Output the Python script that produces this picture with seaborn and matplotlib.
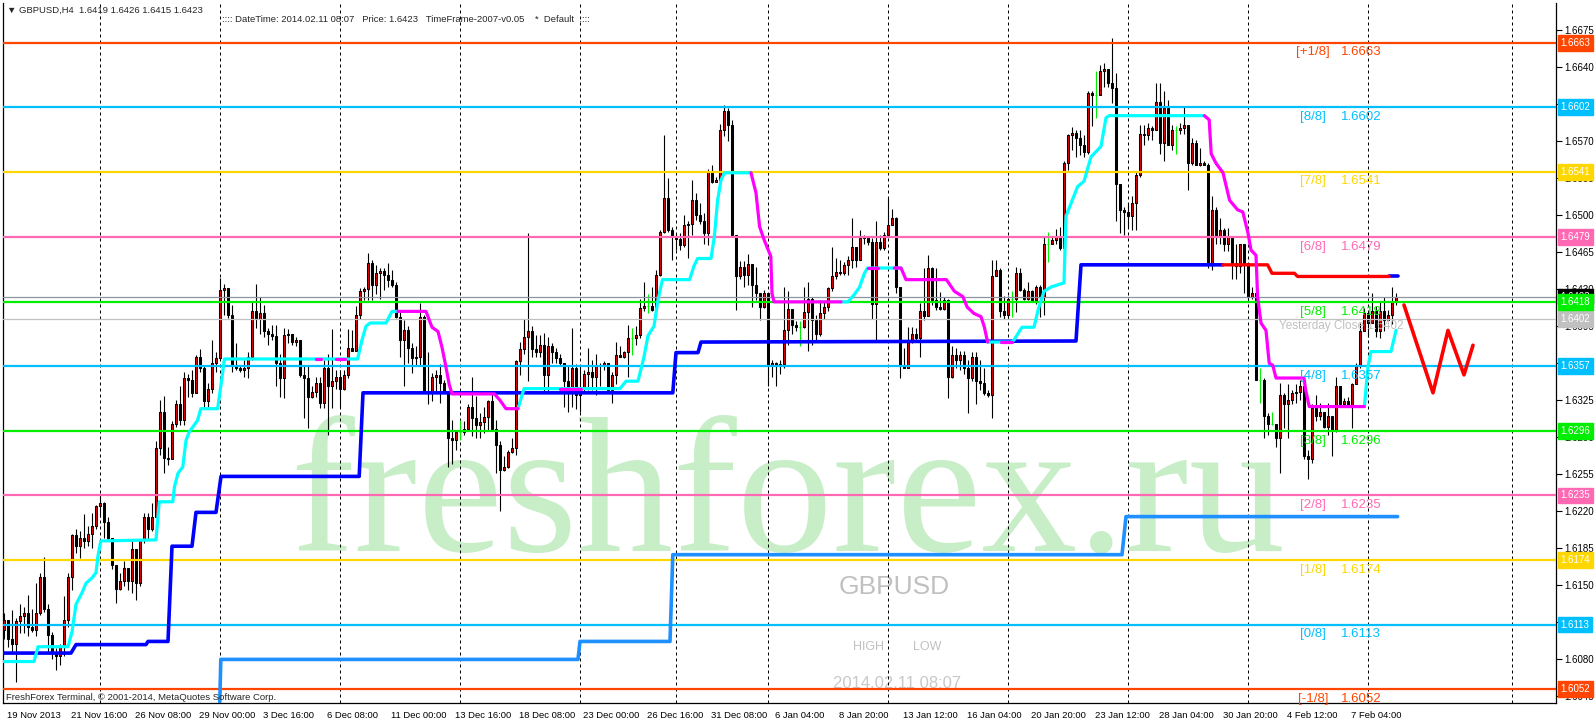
import numpy as np
import pandas as pd
import seaborn as sns
import matplotlib
matplotlib.use("Agg")
import matplotlib.pyplot as plt
from matplotlib import transforms

# ---- candles: GBPUSD H4, bar index 0 = 19 Nov 2013 00:00 ----
open0 = 1.6108
closes = [
    1.6117, 1.6099, 1.6095, 1.6116, 1.6121, 1.6124, 1.6111, 1.6108, 1.6124, 1.6158,
    1.6128, 1.6103, 1.6086, 1.6083, 1.6092, 1.6117, 1.6158, 1.6198, 1.6187, 1.6195,
    1.6192, 1.6199, 1.6206, 1.6225, 1.6228, 1.6210, 1.6195, 1.6169, 1.6147, 1.6154,
    1.6166, 1.6154, 1.6184, 1.6152, 1.6193, 1.6215, 1.6203, 1.6215, 1.6280, 1.6314,
    1.6270, 1.6269, 1.6303, 1.6321, 1.6306, 1.6346, 1.6344, 1.6332, 1.6366, 1.6355,
    1.6324, 1.6336, 1.6360, 1.6365, 1.6429, 1.6431, 1.6406, 1.6357, 1.6355, 1.6354,
    1.6355, 1.6366, 1.6409, 1.6402, 1.6407, 1.6390, 1.6388, 1.6386, 1.6360, 1.6346,
    1.6387, 1.6388, 1.6380, 1.6382, 1.6349, 1.6346, 1.6328, 1.6333, 1.6341, 1.6322,
    1.6355, 1.6338, 1.6343, 1.6347, 1.6336, 1.6349, 1.6374, 1.6372, 1.6406, 1.6428,
    1.6430, 1.6455, 1.6434, 1.6445, 1.6447, 1.6443, 1.6439, 1.6434, 1.6404, 1.6382,
    1.6391, 1.6374, 1.6365, 1.6366, 1.6404, 1.6332, 1.6333, 1.6347, 1.6349, 1.6341,
    1.6332, 1.6289, 1.6287, 1.6295, 1.6295, 1.6298, 1.6319, 1.6308, 1.6302, 1.6304,
    1.6309, 1.6324, 1.6298, 1.6283, 1.6259, 1.6262, 1.6276, 1.6280, 1.6362, 1.6373,
    1.6385, 1.6390, 1.6373, 1.6371, 1.6377, 1.6349, 1.6376, 1.6371, 1.6365, 1.6360,
    1.6343, 1.6333, 1.6355, 1.6330, 1.6336, 1.6350, 1.6352, 1.6347, 1.6357, 1.6358,
    1.6360, 1.6335, 1.6349, 1.6368, 1.6366, 1.6371, 1.6384, 1.6384, 1.6387, 1.6412,
    1.6414, 1.6414, 1.6410, 1.6443, 1.6484, 1.6516, 1.6486, 1.6480, 1.6477, 1.6472,
    1.6491, 1.6492, 1.6514, 1.6500, 1.6494, 1.6483, 1.6541, 1.6531, 1.6533, 1.6580,
    1.6598, 1.6585, 1.6481, 1.6442, 1.6451, 1.6443, 1.6454, 1.6434, 1.6426, 1.6413,
    1.6426, 1.6358, 1.6360, 1.6358, 1.6359, 1.6391, 1.6411, 1.6396, 1.6394, 1.6394,
    1.6408, 1.6421, 1.6401, 1.6388, 1.6407, 1.6413, 1.6431, 1.6442, 1.6446, 1.6445,
    1.6453, 1.6458, 1.6470, 1.6458, 1.6478, 1.6480, 1.6475, 1.6416, 1.6475, 1.6469,
    1.6481, 1.6491, 1.6497, 1.6432, 1.6358, 1.6355, 1.6382, 1.6388, 1.6384, 1.6409,
    1.6405, 1.6450, 1.6420, 1.6413, 1.6411, 1.6420, 1.6347, 1.6368, 1.6363, 1.6368,
    1.6355, 1.6346, 1.6366, 1.6343, 1.6341, 1.6332, 1.6330, 1.6442, 1.6448, 1.6409,
    1.6406, 1.6421, 1.6421, 1.6445, 1.6429, 1.6421, 1.6428, 1.6420, 1.6432, 1.6423,
    1.6473, 1.6473, 1.6476, 1.6480, 1.6469, 1.6549, 1.6576, 1.6578, 1.6573, 1.6566,
    1.6560, 1.6615, 1.6614, 1.6614, 1.6636, 1.6638, 1.6625, 1.6620, 1.6529, 1.6505,
    1.6503, 1.6499, 1.6511, 1.6538, 1.6577, 1.6576, 1.6582, 1.6580, 1.6607, 1.6568,
    1.6601, 1.6566, 1.6580, 1.6580, 1.6582, 1.6585, 1.6549, 1.6568, 1.6547, 1.6549,
    1.6547, 1.6453, 1.6505, 1.6480, 1.6486, 1.6473, 1.6480, 1.6455, 1.6452, 1.6473,
    1.6455, 1.6423, 1.6426, 1.6344, 1.6344, 1.6310, 1.6303, 1.6303, 1.6289, 1.6330,
    1.6321, 1.6325, 1.6332, 1.6333, 1.6338, 1.6272, 1.6269, 1.6318, 1.6310, 1.6314,
    1.6300, 1.6310, 1.6297, 1.6338, 1.6321, 1.6324, 1.6319, 1.6340, 1.6358, 1.6390,
    1.6407, 1.6398, 1.6409, 1.6390, 1.6409, 1.6401, 1.6406, 1.6418, 1.6423,
]
highs = [
    1.6124, 1.6117, 1.6127, 1.6119, 1.6132, 1.6130, 1.6141, 1.6128, 1.6152, 1.6162,
    1.6177, 1.6132, 1.6106, 1.6091, 1.6095, 1.6140, 1.6162, 1.6199, 1.6203, 1.6201,
    1.6217, 1.6206, 1.6218, 1.6226, 1.6236, 1.6229, 1.6215, 1.6195, 1.6169, 1.6162,
    1.6173, 1.6166, 1.6193, 1.6184, 1.6193, 1.6218, 1.6218, 1.6228, 1.6286, 1.6325,
    1.6329, 1.6281, 1.6305, 1.6325, 1.6338, 1.6352, 1.6350, 1.6354, 1.6368, 1.6373,
    1.6357, 1.6341, 1.6382, 1.6371, 1.6441, 1.6435, 1.6428, 1.6415, 1.6379, 1.6358,
    1.6363, 1.6371, 1.6418, 1.6435, 1.6423, 1.6415, 1.6393, 1.6396, 1.6396, 1.6369,
    1.6393, 1.6392, 1.6385, 1.6385, 1.6382, 1.6357, 1.6357, 1.6338, 1.6347, 1.6347,
    1.6363, 1.6369, 1.6392, 1.6354, 1.6354, 1.6354, 1.6392, 1.6391, 1.6414, 1.6431,
    1.6432, 1.6464, 1.6458, 1.6453, 1.6450, 1.6450, 1.6455, 1.6448, 1.6437, 1.6410,
    1.6401, 1.6395, 1.6379, 1.6376, 1.6417, 1.6406, 1.6371, 1.6351, 1.6354, 1.6359,
    1.6344, 1.6333, 1.6306, 1.6297, 1.6306, 1.6305, 1.6321, 1.6347, 1.6329, 1.6313,
    1.6319, 1.6325, 1.6332, 1.6306, 1.6286, 1.6272, 1.6278, 1.6289, 1.6363, 1.6380,
    1.6402, 1.6483, 1.6395, 1.6387, 1.6387, 1.6389, 1.6385, 1.6379, 1.6374, 1.6369,
    1.6359, 1.6357, 1.6393, 1.6359, 1.6357, 1.6354, 1.6374, 1.6363, 1.6369, 1.6360,
    1.6362, 1.6357, 1.6352, 1.6380, 1.6376, 1.6372, 1.6396, 1.6393, 1.6395, 1.6421,
    1.6437, 1.6425, 1.6432, 1.6448, 1.6486, 1.6576, 1.6535, 1.6489, 1.6483, 1.6483,
    1.6500, 1.6494, 1.6533, 1.6521, 1.6511, 1.6502, 1.6544, 1.6547, 1.6536, 1.6586,
    1.6604, 1.6601, 1.6590, 1.6481, 1.6457, 1.6457, 1.6463, 1.6454, 1.6451, 1.6426,
    1.6429, 1.6400, 1.6363, 1.6361, 1.6363, 1.6432, 1.6428, 1.6408, 1.6400, 1.6400,
    1.6432, 1.6437, 1.6423, 1.6406, 1.6420, 1.6418, 1.6432, 1.6470, 1.6459, 1.6458,
    1.6456, 1.6461, 1.6497, 1.6470, 1.6486, 1.6481, 1.6480, 1.6478, 1.6494, 1.6481,
    1.6484, 1.6516, 1.6506, 1.6498, 1.6432, 1.6374, 1.6394, 1.6394, 1.6393, 1.6417,
    1.6450, 1.6462, 1.6451, 1.6450, 1.6427, 1.6423, 1.6421, 1.6376, 1.6374, 1.6372,
    1.6372, 1.6363, 1.6371, 1.6371, 1.6363, 1.6355, 1.6335, 1.6458, 1.6458, 1.6450,
    1.6424, 1.6424, 1.6428, 1.6451, 1.6450, 1.6431, 1.6437, 1.6429, 1.6434, 1.6434,
    1.6480, 1.6484, 1.6480, 1.6487, 1.6489, 1.6551, 1.6577, 1.6583, 1.6580, 1.6580,
    1.6576, 1.6617, 1.6617, 1.6636, 1.6642, 1.6644, 1.6637, 1.6667, 1.6634, 1.6529,
    1.6508, 1.6511, 1.6518, 1.6541, 1.6585, 1.6585, 1.6587, 1.6584, 1.6625, 1.6625,
    1.6617, 1.6609, 1.6585, 1.6584, 1.6587, 1.6603, 1.6582, 1.6573, 1.6571, 1.6563,
    1.6551, 1.6549, 1.6518, 1.6508, 1.6497, 1.6488, 1.6488, 1.6480, 1.6473, 1.6473,
    1.6467, 1.6432, 1.6432, 1.6426, 1.6355, 1.6346, 1.6313, 1.6314, 1.6303, 1.6341,
    1.6332, 1.6340, 1.6335, 1.6340, 1.6344, 1.6338, 1.6278, 1.6321, 1.6330, 1.6322,
    1.6311, 1.6322, 1.6303, 1.6347, 1.6336, 1.6327, 1.6328, 1.6341, 1.6360, 1.6398,
    1.6412, 1.6407, 1.6426, 1.6414, 1.6418, 1.6423, 1.6410, 1.6432, 1.6426,
]
lows = [
    1.6099, 1.6092, 1.6086, 1.6059, 1.6105, 1.6105, 1.6102, 1.6106, 1.6102, 1.6122,
    1.6125, 1.6087, 1.6080, 1.6070, 1.6075, 1.6083, 1.6111, 1.6146, 1.6181, 1.6176,
    1.6185, 1.6187, 1.6185, 1.6203, 1.6215, 1.6195, 1.6192, 1.6165, 1.6133, 1.6146,
    1.6149, 1.6146, 1.6143, 1.6136, 1.6149, 1.6190, 1.6193, 1.6201, 1.6215, 1.6273,
    1.6256, 1.6264, 1.6277, 1.6300, 1.6302, 1.6302, 1.6328, 1.6328, 1.6332, 1.6352,
    1.6319, 1.6319, 1.6332, 1.6352, 1.6363, 1.6406, 1.6403, 1.6352, 1.6354, 1.6352,
    1.6347, 1.6346, 1.6363, 1.6393, 1.6388, 1.6385, 1.6377, 1.6382, 1.6338, 1.6328,
    1.6327, 1.6379, 1.6377, 1.6376, 1.6347, 1.6308, 1.6299, 1.6327, 1.6328, 1.6318,
    1.6318, 1.6292, 1.6318, 1.6336, 1.6319, 1.6335, 1.6346, 1.6372, 1.6372, 1.6402,
    1.6420, 1.6420, 1.6420, 1.6425, 1.6421, 1.6429, 1.6432, 1.6432, 1.6403, 1.6366,
    1.6338, 1.6360, 1.6351, 1.6357, 1.6357, 1.6332, 1.6321, 1.6324, 1.6332, 1.6322,
    1.6332, 1.6262, 1.6265, 1.6278, 1.6287, 1.6292, 1.6297, 1.6291, 1.6289, 1.6289,
    1.6294, 1.6297, 1.6297, 1.6256, 1.6220, 1.6258, 1.6261, 1.6275, 1.6273, 1.6349,
    1.6369, 1.6343, 1.6366, 1.6366, 1.6366, 1.6333, 1.6333, 1.6360, 1.6360, 1.6357,
    1.6319, 1.6314, 1.6319, 1.6317, 1.6314, 1.6332, 1.6335, 1.6335, 1.6330, 1.6338,
    1.6354, 1.6332, 1.6322, 1.6340, 1.6366, 1.6365, 1.6347, 1.6368, 1.6377, 1.6384,
    1.6409, 1.6407, 1.6409, 1.6429, 1.6442, 1.6483, 1.6484, 1.6458, 1.6467, 1.6467,
    1.6470, 1.6459, 1.6481, 1.6495, 1.6492, 1.6473, 1.6472, 1.6530, 1.6531, 1.6530,
    1.6575, 1.6570, 1.6480, 1.6410, 1.6440, 1.6432, 1.6434, 1.6413, 1.6420, 1.6401,
    1.6412, 1.6338, 1.6347, 1.6338, 1.6350, 1.6355, 1.6377, 1.6388, 1.6390, 1.6376,
    1.6393, 1.6372, 1.6377, 1.6380, 1.6386, 1.6402, 1.6409, 1.6428, 1.6440, 1.6443,
    1.6443, 1.6443, 1.6450, 1.6451, 1.6458, 1.6473, 1.6472, 1.6402, 1.6382, 1.6467,
    1.6467, 1.6481, 1.6491, 1.6426, 1.6346, 1.6355, 1.6355, 1.6379, 1.6382, 1.6366,
    1.6401, 1.6410, 1.6415, 1.6410, 1.6410, 1.6410, 1.6327, 1.6346, 1.6355, 1.6354,
    1.6350, 1.6313, 1.6343, 1.6321, 1.6335, 1.6330, 1.6328, 1.6308, 1.6442, 1.6404,
    1.6402, 1.6404, 1.6404, 1.6408, 1.6428, 1.6420, 1.6420, 1.6418, 1.6416, 1.6404,
    1.6406, 1.6456, 1.6473, 1.6473, 1.6467, 1.6455, 1.6543, 1.6562, 1.6555, 1.6557,
    1.6555, 1.6558, 1.6584, 1.6592, 1.6615, 1.6621, 1.6621, 1.6606, 1.6494, 1.6483,
    1.6481, 1.6488, 1.6486, 1.6486, 1.6536, 1.6566, 1.6571, 1.6571, 1.6580, 1.6558,
    1.6551, 1.6566, 1.6562, 1.6558, 1.6577, 1.6577, 1.6524, 1.6547, 1.6547, 1.6546,
    1.6547, 1.6450, 1.6448, 1.6473, 1.6473, 1.6466, 1.6466, 1.6440, 1.6440, 1.6445,
    1.6426, 1.6421, 1.6421, 1.6344, 1.6322, 1.6289, 1.6292, 1.6302, 1.6281, 1.6256,
    1.6299, 1.6289, 1.6321, 1.6322, 1.6325, 1.6269, 1.6251, 1.6266, 1.6305, 1.6306,
    1.6299, 1.6292, 1.6272, 1.6295, 1.6319, 1.6319, 1.6319, 1.6299, 1.6340, 1.6355,
    1.6390, 1.6385, 1.6401, 1.6385, 1.6384, 1.6390, 1.6401, 1.6397, 1.6415,
]

# ---- indicator lines (bar position, price), one inner list per drawn piece ----
cyan_bars = [
    [0, 7.5, 8.5, 16, 17, 18, 19.5, 20.5, 22, 23, 23.5, 24.2, 38, 38.8, 42.2, 42.6, 43.5, 44.7, 45.5, 46.3,
     48.4, 49.2, 53.4, 54.3, 55.1, 88.4, 89.5, 90.5, 91.5, 95.5, 97, 98.5],
    [128.5, 130, 154, 155.5, 158.5, 160, 161, 162.5, 163.5, 164.6, 171.4, 172.5, 173.4, 176.75, 177.6,
     178.4, 179.25, 180.1, 186.75],
    [209.25, 211, 212.6, 213.9, 215.1, 215.9, 224.25],
    [245.9, 252, 252.5, 254.5, 257.5, 258.5, 260, 261.75, 265, 265.5, 266.75, 268.4, 270, 271.75, 274.25,
     275.5, 276.3, 300.1],
    [340.1, 341, 341.75, 346.75, 348],
]
cyan_prices = [
    [1.6078, 1.6078, 1.6092, 1.6092, 1.6106, 1.6132, 1.6143, 1.6152, 1.6157, 1.6162, 1.6178, 1.6192, 1.6193,
     1.6229, 1.6229, 1.6243, 1.6256, 1.6262, 1.6287, 1.6295, 1.6306, 1.6317, 1.6317, 1.6341, 1.6364, 1.6364,
     1.6382, 1.6395, 1.6398, 1.6398, 1.6409, 1.6409],
    [1.6317, 1.6336, 1.6336, 1.6343, 1.6343, 1.6366, 1.6386, 1.6395, 1.6420, 1.6439, 1.6439, 1.6452, 1.6459,
     1.6459, 1.6480, 1.6514, 1.6533, 1.6540, 1.6540],
    [1.6418, 1.6418, 1.6425, 1.6432, 1.6445, 1.6450, 1.6450],
    [1.6380, 1.6380, 1.6382, 1.6394, 1.6394, 1.6410, 1.6428, 1.6432, 1.6436, 1.6499, 1.6511, 1.6527, 1.6532,
     1.6555, 1.6565, 1.6592, 1.6594, 1.6594],
    [1.6319, 1.6357, 1.6371, 1.6371, 1.6391],
]
magenta_bars = [
    [78, 79.3], [83, 85.3],
    [98.5, 105.5, 107, 108.5, 109.5, 110.3, 111.3, 112, 122.6, 124, 125.5, 128.5],
    [138.9, 144.3],
    [186.75, 188, 188.9, 190.1, 191.7, 192, 192.5, 209.25],
    [215.9, 218.4],
    [222.6, 224.25, 225.5, 235.6, 237.6, 239.7, 240.8, 242.5, 244.25, 245.1, 245.9],
    [249.25, 252],
    [300.1, 301.3, 301.8, 303, 304.75, 306.4, 308.4, 309.7, 311, 311.75, 313, 313.4, 314.25, 315.5, 316.3,
     317.2, 318, 325, 325.4, 326.3, 340.1],
]
magenta_prices = [
    [1.6364, 1.6364], [1.6364, 1.6364],
    [1.6409, 1.6409, 1.6394, 1.6390, 1.6375, 1.6360, 1.6340, 1.6331, 1.6331, 1.6325, 1.6317, 1.6317],
    [1.6336, 1.6336],
    [1.6540, 1.6521, 1.6489, 1.6476, 1.6461, 1.6426, 1.6418, 1.6418],
    [1.6450, 1.6450],
    [1.6450, 1.6450, 1.6439, 1.6439, 1.6428, 1.6423, 1.6413, 1.6407, 1.6404, 1.6394, 1.6380],
    [1.6380, 1.6380],
    [1.6594, 1.6590, 1.6558, 1.6549, 1.6540, 1.6514, 1.6505, 1.6503, 1.6483, 1.6467, 1.6462, 1.6423, 1.6398,
     1.6391, 1.6360, 1.6358, 1.6346, 1.6346, 1.6335, 1.6319, 1.6319],
]
blue_bars = [
    [0, 16.75, 18, 35.5, 36, 41, 42, 47, 48, 53, 54.25, 88.8, 89.75, 167.2, 168, 173.5, 174.25, 268, 269.25,
     304.7],
    [346.3, 348.4],
]
blue_prices = [
    [1.6086, 1.6086, 1.6094, 1.6094, 1.6097, 1.6097, 1.6187, 1.6187, 1.6219, 1.6219, 1.6253, 1.6253, 1.6332,
     1.6332, 1.6370, 1.6370, 1.6380, 1.6381, 1.6453, 1.6453],
    [1.6442, 1.6442],
]
red_bars = [[304.7, 315.9, 317, 322.6, 323.4, 346.3]]
red_prices = [[1.6453, 1.6453, 1.6445, 1.6445, 1.6442, 1.6442]]
dodger_bars = [[53.7, 54.2, 143.5, 144, 166.5, 167.2, 279.5, 280.5, 348.4]]
dodger_prices = [[1.6000, 1.6080, 1.6080, 1.6097, 1.6097, 1.6179, 1.6179, 1.6215, 1.6215]]
zigzag_bars = [[350, 357.25, 361, 365, 367.25]]
zigzag_prices = [[1.6415, 1.6332, 1.6391, 1.6349, 1.6377]]

# ---- Murrey math levels ----
levels = [1.6663, 1.6602, 1.6541, 1.6479, 1.6418, 1.6357, 1.6296, 1.6235, 1.6174, 1.6113, 1.6052]
level_names = ['[+1/8]', '[8/8]', '[7/8]', '[6/8]', '[5/8]', '[4/8]', '[3/8]', '[2/8]', '[1/8]', '[0/8]', '[-1/8]']
level_colors = ['#FF4500', '#00BFFF', '#FFD700', '#FF69B4', '#00EE00', '#00BFFF', '#00EE00', '#FF69B4',
                '#FFD700', '#00BFFF', '#FF4500']
last_price = 1.6423
yesterday_close = 1.6402

week_bars = [24, 54, 84, 114, 144, 168, 191, 221, 251, 281, 311, 341, 377]
date_bars = list(range(0, 337, 16))
date_labels = ['19 Nov 2013', '21 Nov 16:00', '26 Nov 08:00', '29 Nov 00:00', '3 Dec 16:00', '6 Dec 08:00',
               '11 Dec 00:00', '13 Dec 16:00', '18 Dec 08:00', '23 Dec 00:00', '26 Dec 16:00', '31 Dec 08:00',
               '6 Jan 04:00', '8 Jan 20:00', '13 Jan 12:00', '16 Jan 04:00', '20 Jan 20:00', '23 Jan 12:00',
               '28 Jan 04:00', '30 Jan 20:00', '4 Feb 12:00', '7 Feb 04:00']
price_ticks = [1.6045, 1.6080, 1.6115, 1.6150, 1.6185, 1.6220, 1.6255, 1.6290, 1.6325, 1.6360, 1.6395,
               1.6430, 1.6465, 1.6500, 1.6535, 1.6570, 1.6605, 1.6640, 1.6675]

sns.set_style("white")
plt.rcParams['font.family'] = ['Liberation Sans', 'DejaVu Sans']

fig = plt.figure(figsize=(15.96, 7.2), dpi=100)
ax = fig.add_axes([3 / 1596, 17 / 720, 1553 / 1596, 700 / 720])

# watermark and chart objects in the background
ax.text(290 / 1596, (720 - 551) / 720, 'freshforex.ru', transform=fig.transFigure, fontsize=138,
        family=['Liberation Serif', 'DejaVu Serif'], color='#C8EEC8', ha='left', va='baseline', zorder=0.5)
ax.text(894 / 1596, (720 - 587) / 720, 'GBPUSD', transform=fig.transFigure, fontsize=19,
        color='#C0C0C0', ha='center', va='center', zorder=0.6)
ax.text(868 / 1596, (720 - 647) / 720, 'HIGH', transform=fig.transFigure, fontsize=9,
        color='#C0C0C0', ha='center', va='center', zorder=0.6)
ax.text(927 / 1596, (720 - 647) / 720, 'LOW', transform=fig.transFigure, fontsize=9,
        color='#C0C0C0', ha='center', va='center', zorder=0.6)
ax.text(897 / 1596, (720 - 684) / 720, '2014.02.11 08:07', transform=fig.transFigure, fontsize=12,
        color='#C8C8C8', ha='center', va='center', zorder=0.6)

for b in week_bars:
    ax.axvline(b, color='black', lw=0.72, ls=(0, (3, 3)), zorder=1)

for lvl, name, col in zip(levels, level_names, level_colors):
    ax.axhline(lvl, color=col, lw=1.6, zorder=5.5)
    ax.text(327.25, lvl - 0.00035, name, color=col, fontsize=9.5, ha='center', va='top', zorder=7)
    ax.text(334.25, lvl - 0.00035, f'{lvl:.4f}', color=col, fontsize=9.5, ha='left', va='top', zorder=7)
ax.axhline(last_price, color='#8C96A0', lw=0.9, zorder=5.4)
ax.axhline(yesterday_close, color='#C0C0C0', lw=0.9, zorder=5.4)
ax.text(318.75, yesterday_close - 0.00015, 'Yesterday Close 1.6402', color='#C0C0C0', fontsize=8.5,
        ha='left', va='top', zorder=7)

# candles
c = np.array(closes)
o = np.concatenate([[open0], c[:-1]])
h = np.maximum(np.array(highs), np.maximum(o, c))
l = np.minimum(np.array(lows), np.minimum(o, c))
x = np.arange(len(c))
doji = np.isclose(o, c)
wick_col = np.where(doji, '#00EE00', 'black')
body_col = np.where(c > o, '#E00000', 'black')
edge_col = np.where(doji, '#00EE00', 'black')
ax.vlines(x, l, h, colors=wick_col, lw=0.8, zorder=4)
ax.bar(x, np.abs(c - o), bottom=np.minimum(o, c), width=0.5, color=body_col, edgecolor=edge_col,
       linewidth=0.75, zorder=5)


def draw(bars, prices, color, lw):
    df = pd.DataFrame({
        'bar': [b for seg in bars for b in seg],
        'price': [p for seg in prices for p in seg],
        'seg': [i for i, seg in enumerate(bars) for _ in seg],
    })
    sns.lineplot(data=df, x='bar', y='price', units='seg', estimator=None, sort=False,
                 color=color, linewidth=lw, legend=False, ax=ax, zorder=6)


draw(dodger_bars, dodger_prices, '#1E90FF', 2.6)
draw(blue_bars, blue_prices, '#0000FF', 2.6)
draw(red_bars, red_prices, '#FF0000', 2.4)
draw(cyan_bars, cyan_prices, '#00FFFF', 2.3)
draw(magenta_bars, magenta_prices, '#FF00FF', 2.3)
draw(zigzag_bars, zigzag_prices, '#FF0000', 2.6)

ax.set_xlim(-0.25, 388)
ax.set_ylim(1.60388, 1.67005)
ax.set_xlabel('')
ax.set_ylabel('')

ax.yaxis.tick_right()
ax.set_yticks(price_ticks)
ax.set_yticklabels([f'{t:.4f}' for t in price_ticks])
ax.set_xticks(date_bars)
ax.set_xticklabels(date_labels, ha='left')
ax.tick_params(axis='both', direction='out', length=4, width=0.8, labelsize=7, colors='black', pad=2)
ax.tick_params(axis='x', labelsize=6.8)
shift = transforms.ScaledTranslation(2 / 72, 0, fig.dpi_scale_trans)
for lab in ax.get_xticklabels():
    lab.set_transform(lab.get_transform() + shift)
for side in ['left', 'right', 'bottom']:
    ax.spines[side].set_color('black')
    ax.spines[side].set_linewidth(0.9)
ax.spines['top'].set_visible(False)

# price boxes on the right scale
box_tr = transforms.blended_transform_factory(ax.transAxes, ax.transData)
box_style = 'square,pad=0.3'
ax.text(1.003, last_price, f'{last_price:.4f}', transform=box_tr, fontsize=7, color='white', ha='left',
        va='center', clip_on=False, zorder=10, bbox=dict(boxstyle=box_style, fc='black', ec='black'))
ax.text(1.003, yesterday_close, f'{yesterday_close:.4f}', transform=box_tr, fontsize=7, color='white',
        ha='left', va='center', clip_on=False, zorder=10,
        bbox=dict(boxstyle=box_style, fc='#C0C0C0', ec='#C0C0C0'))
for lvl, col in zip(levels, level_colors):
    ax.text(1.003, lvl, f'{lvl:.4f}', transform=box_tr, fontsize=7, color='white', ha='left',
            va='center', clip_on=False, zorder=11, bbox=dict(boxstyle=box_style, fc=col, ec=col))

fig.text(7 / 1596, 1 - 10 / 720, '\u25bc GBPUSD,H4  1.6419 1.6426 1.6415 1.6423', fontsize=6.8, va='center')
fig.text(222 / 1596, 1 - 19 / 720,
         ':::: DateTime: 2014.02.11 08:07   Price: 1.6423   TimeFrame-2007-v0.05    *  Default  ::::',
         fontsize=6.8, va='center')
fig.text(6 / 1596, 1 - 697 / 720, 'FreshForex Terminal, \u00a9 2001-2014, MetaQuotes Software Corp.',
         fontsize=6.8, va='center')

fig.savefig('out.png', dpi=100, facecolor='white')
